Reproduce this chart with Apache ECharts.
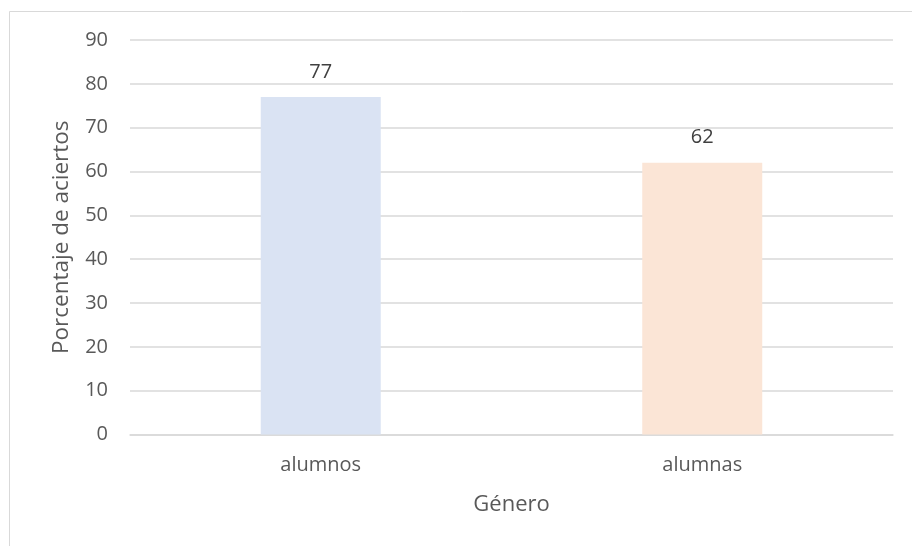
<!DOCTYPE html>
<html>
<head>
<meta charset="utf-8">
<script src="https://cdn.jsdelivr.net/npm/echarts@6/dist/echarts.min.js"></script>
<style>
  html, body { margin: 0; padding: 0; background: #fff; }
  #chart { width: 912px; height: 546px; }
</style>
</head>
<body>
<div id="chart"></div>
<script>
// Percentage of correct answers by gender
const categories = ['alumnos', 'alumnas'];
const values = [77, 62];
const barColors = ['#dae3f3', '#fbe5d6'];
const yTicks = [0, 10, 20, 30, 40, 50, 60, 70, 80, 90];

const textColor = '#595959';
const fontFamily = '"Open Sans", sans-serif';

const chart = echarts.init(document.getElementById('chart'), null, { renderer: 'canvas' });

chart.setOption({
  backgroundColor: '#ffffff',
  animation: false,
  graphic: [{
    type: 'rect',
    shape: { x: 9.5, y: 11.5, width: 940, height: 560 },
    style: { fill: 'none', stroke: '#d9d9d9', lineWidth: 1 },
    silent: true
  }],
  grid: { left: 130, right: 19, top: 40, bottom: 111.5 },
  xAxis: {
    type: 'category',
    data: categories,
    name: 'Género',
    nameLocation: 'middle',
    nameGap: 59,
    nameTextStyle: { color: textColor, fontSize: 22, fontFamily },
    axisLine: { show: true, lineStyle: { color: '#d9d9d9', width: 1.5 } },
    axisTick: { show: false },
    axisLabel: { color: textColor, fontSize: 20, fontFamily, margin: 21 }
  },
  yAxis: {
    type: 'value',
    min: yTicks[0],
    max: yTicks[yTicks.length - 1],
    interval: 10,
    name: 'Porcentaje de aciertos',
    nameLocation: 'middle',
    nameGap: 57,
    nameTextStyle: { color: textColor, fontSize: 22.5, fontFamily },
    axisLine: { show: false },
    axisTick: { show: false },
    axisLabel: { color: textColor, fontSize: 20, fontFamily, margin: 22 },
    splitLine: { lineStyle: { color: '#d9d9d9', width: 1.5 } }
  },
  series: [{
    type: 'bar',
    barWidth: 120,
    data: values.map((v, i) => ({ value: v, itemStyle: { color: barColors[i] } })),
    label: {
      show: true,
      position: 'top',
      distance: 15,
      color: '#404040',
      fontSize: 20,
      fontFamily
    }
  }]
});
</script>
</body>
</html>
